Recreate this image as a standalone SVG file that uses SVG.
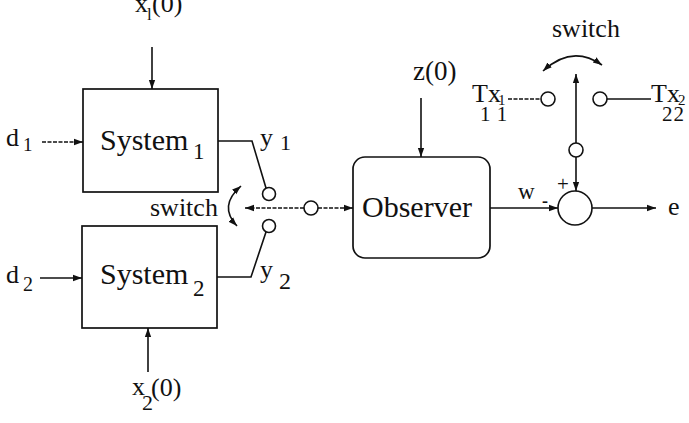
<svg xmlns="http://www.w3.org/2000/svg" width="689" height="423" viewBox="0 0 689 423">
<defs>
<marker id="ah" viewBox="0 0 10 10" refX="10" refY="5" markerWidth="9" markerHeight="9" markerUnits="userSpaceOnUse" orient="auto-start-reverse">
<path d="M0,1.5 L10,5 L0,8.5 Z" fill="#111"/>
</marker>
</defs>
<style>
text{font-family:"Liberation Serif","Times New Roman",serif;fill:#111}
.box{fill:#fff;stroke:#111;stroke-width:1.7}
.ln{fill:none;stroke:#111;stroke-width:1.6}
.dl{fill:none;stroke:#111;stroke-width:1.4;stroke-dasharray:4 1.5}
.c{fill:#fff;stroke:#111;stroke-width:1.6}
</style>
<rect width="689" height="423" fill="#fff"/>

<g id="system1">
<rect class="box" x="83" y="89" width="135" height="103"/>
<text x="100" y="150" style="font-size:30px">System</text>
<text x="193" y="159" style="font-size:23px">1</text>
</g>
<g id="system2">
<rect class="box" x="82" y="226" width="135" height="102"/>
<text x="100" y="284" style="font-size:30px">System</text>
<text x="193" y="296" style="font-size:23px">2</text>
</g>
<g id="observer">
<rect class="box" x="353" y="157" width="137" height="101" rx="12"/>
<text x="417" y="217" text-anchor="middle" style="font-size:30px">Observer</text>
</g>
<g id="sum">
<circle class="c" cx="575" cy="208" r="17"/>
<text x="557" y="191" style="font-size:21px">+</text>
<text x="542" y="207" style="font-size:18px;font-weight:bold">-</text>
</g>
<g id="switch-left">
<circle class="c" cx="269" cy="194" r="6.5"/>
<circle class="c" cx="269" cy="226" r="6.5"/>
<circle class="c" cx="311" cy="208" r="7"/>
<text x="150" y="216" style="font-size:26px">switch</text>
</g>
<g id="switch-right">
<circle class="c" cx="548" cy="99" r="7"/>
<circle class="c" cx="600" cy="99" r="7"/>
<circle class="c" cx="576" cy="150" r="7"/>
<text x="552" y="37" style="font-size:26px">switch</text>
</g>
<g id="labels">
<text x="135" y="12" style="font-size:26px">x</text>
<text x="147" y="20" style="font-size:17px">l</text>
<text x="152" y="12" style="font-size:26px">(0)</text>
<text x="132" y="395" style="font-size:26px">x</text>
<text x="142" y="410" style="font-size:22px">2</text>
<text x="151" y="396" style="font-size:26px">(0)</text>
<text x="6" y="146" style="font-size:26px">d</text>
<text x="23" y="151" style="font-size:19px">1</text>
<text x="6" y="283" style="font-size:26px">d</text>
<text x="23" y="291" style="font-size:20px">2</text>
<text x="260" y="146" style="font-size:26px">y</text>
<text x="280" y="150" style="font-size:22px">1</text>
<text x="260" y="278" style="font-size:26px">y</text>
<text x="279" y="289" style="font-size:24px">2</text>
<text x="413" y="80" style="font-size:27px">z(0)</text>
<text x="518" y="199" style="font-size:23px">w</text>
<text x="668" y="215" style="font-size:26px">e</text>
<text x="472" y="102" style="font-size:26px">Tx</text>
<text x="498" y="105" style="font-size:15px">1</text>
<text x="480" y="121" style="font-size:21px" letter-spacing="7">11</text>
<text x="651" y="102" style="font-size:26px">Tx</text>
<text x="678" y="105" style="font-size:15px">2</text>
<text x="662" y="121" style="font-size:21px" letter-spacing="1">22</text>
</g>
<g id="connectors">
<line class="ln" x1="152" y1="47" x2="152" y2="89" marker-end="url(#ah)"/>
<line class="ln" x1="148" y1="372" x2="148" y2="328" marker-end="url(#ah)"/>
<line class="dl" x1="42" y1="142" x2="83" y2="142" marker-end="url(#ah)"/>
<line class="ln" x1="40" y1="278" x2="82" y2="278" marker-end="url(#ah)"/>
<polyline class="ln" points="218,141 252,141 266,188"/>
<polyline class="ln" points="217,277 251,277 266,232"/>
<line class="dl" x1="304" y1="208" x2="245" y2="208" marker-end="url(#ah)"/>
<line class="dl" x1="318" y1="208" x2="353" y2="208" marker-end="url(#ah)"/>
<path class="ln" d="M241,186 Q218,206 237,226" marker-start="url(#ah)" marker-end="url(#ah)"/>
<line class="ln" x1="421" y1="98" x2="421" y2="157" marker-end="url(#ah)"/>
<line class="ln" x1="490" y1="208" x2="558" y2="208" marker-end="url(#ah)"/>
<line class="ln" x1="592" y1="208" x2="656" y2="208" marker-end="url(#ah)"/>
<line class="ln" x1="576" y1="157" x2="576" y2="191" marker-end="url(#ah)"/>
<line class="ln" x1="576" y1="143" x2="576" y2="74" marker-end="url(#ah)"/>
<path class="ln" d="M543,71 Q572,44 602,65" marker-start="url(#ah)" marker-end="url(#ah)"/>
<line class="dl" x1="508" y1="99" x2="541" y2="99"/>
<line class="ln" x1="607" y1="99" x2="651" y2="99"/>
</g>
</svg>
